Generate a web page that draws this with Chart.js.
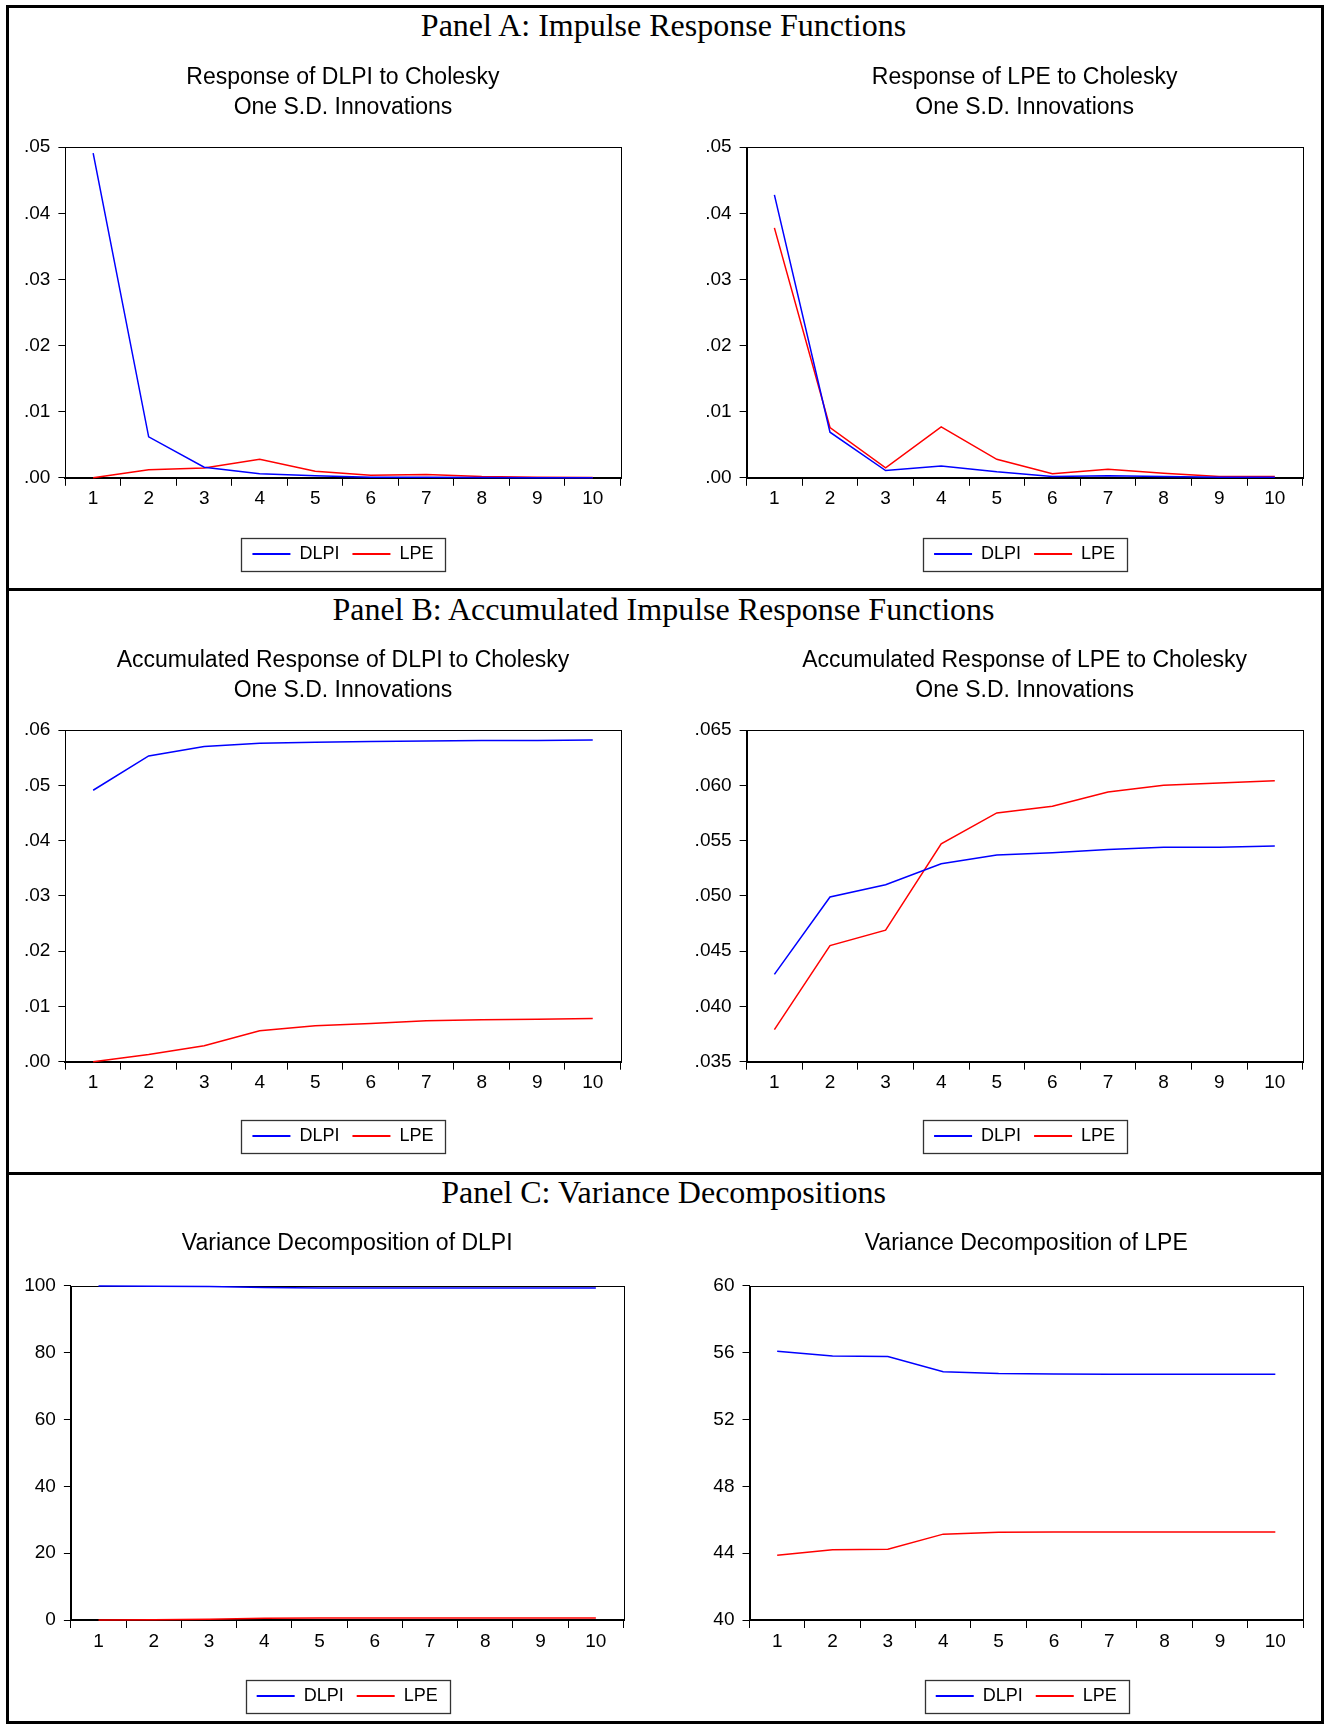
<!DOCTYPE html>
<html>
<head>
<meta charset="utf-8">
<script src="https://cdn.jsdelivr.net/npm/chart.js@4.4.1/dist/chart.umd.min.js"></script>
<style>
  body { margin: 0; background: #fff; width: 1325px; height: 1729px; position: relative; overflow: hidden; }
  .frame { position: absolute; left: 6px; top: 5px; width: 1312px; height: 1713px; border: 3px solid #000; }
  .sep { position: absolute; left: 6px; width: 1318px; height: 3px; background: #000; }
  .ptitle { position: absolute; left: 1px; width: 1325px; text-align: center; color: #000;
            font-family: 'Liberation Serif', 'Times New Roman', serif; font-size: 32px; line-height: 32px; }
  canvas { position: absolute; }
</style>
</head>
<body>
<div class="frame"></div>
<div class="sep" style="top:588px"></div>
<div class="sep" style="top:1172px"></div>

<div class="ptitle" style="top:9px">Panel A: Impulse Response Functions</div>
<div class="ptitle" style="top:593px">Panel B: Accumulated Impulse Response Functions</div>
<div class="ptitle" style="top:1176px">Panel C: Variance Decompositions</div>

<canvas id="irf-dlpi"></canvas>
<canvas id="irf-lpe"></canvas>
<canvas id="acc-dlpi"></canvas>
<canvas id="acc-lpe"></canvas>
<canvas id="vd-dlpi"></canvas>
<canvas id="vd-lpe"></canvas>

<script>
// periods after the shock
const periods = ['1', '2', '3', '4', '5', '6', '7', '8', '9', '10'];
const seriesNames = ['DLPI', 'LPE'];

// Panel A: impulse responses
const irfDlpiByDlpi = [0.0491, 0.0062, 0.0016, 0.0006, 0.0003, 0.0001, 0.0001, 0.00005, 0.00002, 0.00001];
const irfDlpiByLpe  = [0.0000, 0.0012, 0.0015, 0.0028, 0.0010, 0.0004, 0.0005, 0.0002, 0.0001, 0.00005];
const irfLpeByDlpi  = [0.0428, 0.0069, 0.0011, 0.0018, 0.0009, 0.0002, 0.0003, 0.0002, 0.0001, 0.0001];
const irfLpeByLpe   = [0.0378, 0.0076, 0.0015, 0.0077, 0.0028, 0.0006, 0.0013, 0.0007, 0.0002, 0.0002];

// Panel B: accumulated responses
const accDlpiByDlpi = [0.0491, 0.0553, 0.0570, 0.0576, 0.0578, 0.0579, 0.0580, 0.0581, 0.0581, 0.0582];
const accDlpiByLpe  = [0.0000, 0.0013, 0.0029, 0.0056, 0.0065, 0.0069, 0.0074, 0.0076, 0.0077, 0.0078];
const accLpeByDlpi  = [0.0429, 0.0499, 0.0510, 0.0529, 0.0537, 0.0539, 0.0542, 0.0544, 0.0544, 0.0545];
const accLpeByLpe   = [0.0379, 0.0455, 0.0469, 0.0547, 0.0575, 0.0581, 0.0594, 0.0600, 0.0602, 0.0604];

// Panel C: variance decompositions (percent)
const vdDlpiByDlpi = [100.0, 99.9, 99.8, 99.5, 99.4, 99.4, 99.4, 99.4, 99.4, 99.4];
const vdDlpiByLpe  = [0.0, 0.1, 0.2, 0.5, 0.6, 0.6, 0.6, 0.6, 0.6, 0.6];
const vdLpeByDlpi  = [56.09, 55.80, 55.77, 54.86, 54.75, 54.73, 54.71, 54.71, 54.71, 54.71];
const vdLpeByLpe   = [43.88, 44.20, 44.23, 45.14, 45.25, 45.27, 45.27, 45.27, 45.27, 45.27];

// y axis ranges: [min, max, step, decimals]
const yIrf     = [0, 0.05, 0.01, 2];
const yAccDlpi = [0, 0.06, 0.01, 2];
const yAccLpe  = [0.035, 0.065, 0.005, 3];
const yVdDlpi  = [0, 100, 20, 0];
const yVdLpe   = [40, 60, 4, 0];

Chart.defaults.font.family = "'Liberation Sans', Arial, sans-serif";
Chart.defaults.color = '#000';

// box round the plot area, under the lines
const plotFrame = {
    id: 'plotFrame',
    beforeDatasetsDraw(chart) {
        const a = chart.chartArea;
        const ctx = chart.ctx;
        ctx.save();
        ctx.strokeStyle = '#000';
        ctx.lineWidth = 1;
        const l = Math.round(a.left) + 0.5, t = Math.round(a.top) + 0.5;
        ctx.strokeRect(l, t, Math.round(a.right) - Math.round(a.left), Math.round(a.bottom) - Math.round(a.top));
        ctx.restore();
    }
};

// box round the legend items
const legendFrame = {
    id: 'legendFrame',
    afterDraw(chart) {
        const hb = chart.legend && chart.legend.legendHitBoxes;
        if (!hb || !hb.length) return;
        const last = hb[hb.length - 1];
        const x0 = Math.round(hb[0].left - 11) + 0.5;
        const x1 = Math.round(last.left + last.width + 12) + 0.5;
        const yc = hb[0].top + hb[0].height / 2;
        const ctx = chart.ctx;
        ctx.save();
        ctx.strokeStyle = '#333';
        ctx.lineWidth = 1.3;
        ctx.strokeRect(x0, Math.round(yc - 16.5) + 0.5, x1 - x0, 33);
        ctx.restore();
    }
};

function makeChart(id, box, titleLines, dlpi, lpe, yRange) {
    const canvas = document.getElementById(id);
    canvas.width = box.width;
    canvas.height = box.height;
    canvas.style.left = box.left + 'px';
    canvas.style.top = box.top + 'px';
    const [yMin, yMax, yStep, decimals] = yRange;

    return new Chart(canvas, {
        type: 'line',
        data: {
            labels: periods,
            datasets: [
                { label: seriesNames[0], data: dlpi, borderColor: '#0000ff', backgroundColor: '#0000ff',
                  borderWidth: 1.5, pointRadius: 0, tension: 0, clip: 4 },
                { label: seriesNames[1], data: lpe, borderColor: '#ff0000', backgroundColor: '#ff0000',
                  borderWidth: 1.5, pointRadius: 0, tension: 0, clip: 4 }
            ]
        },
        options: {
            responsive: false,
            animation: false,
            events: [],
            layout: { padding: { left: 0, right: box.padRight, top: 0, bottom: 0 } },
            plugins: {
                title: {
                    display: true,
                    text: titleLines,
                    fullSize: false,
                    color: '#000',
                    font: { size: 23, weight: 'normal', lineHeight: 1.287 },
                    padding: { top: 23, bottom: box.titleGap - 3 }
                },
                legend: {
                    position: 'bottom',
                    fullSize: false,
                    labels: {
                        boxWidth: 38,
                        boxHeight: 2,
                        padding: 13,
                        color: '#000',
                        font: { size: 18 },
                        generateLabels(chart) {
                            const items = Chart.defaults.plugins.legend.labels.generateLabels(chart);
                            items.forEach(it => { it.lineWidth = 0; });
                            return items;
                        }
                    }
                },
                tooltip: { enabled: false }
            },
            scales: {
                x: {
                    offset: true,
                    grid: { offset: true, drawOnChartArea: false, tickLength: 8, color: '#000' },
                    border: { color: '#000', width: 2 },
                    ticks: { font: { size: 19 }, padding: 2, maxRotation: 0, autoSkip: false },
                    afterFit(scale) { scale.height = box.xAxisHeight; }
                },
                y: {
                    min: yMin,
                    max: yMax,
                    grid: { drawOnChartArea: false, tickLength: 7, color: '#000' },
                    border: { color: '#000', width: 1 },
                    ticks: {
                        stepSize: yStep,
                        font: { size: 19 },
                        padding: 8,
                        callback: v => decimals ? Number(v).toFixed(decimals).replace(/^0\./, '.') : String(Math.round(v))
                    },
                    afterFit(scale) { scale.width = box.yAxisWidth; }
                }
            }
        },
        plugins: [plotFrame, legendFrame]
    });
}

makeChart('irf-dlpi',
    { left: 10, top: 40, width: 645, height: 533, yAxisWidth: 55.4, padRight: 34.5, titleGap: 28, xAxisHeight: 54.2 },
    ['Response of DLPI to Cholesky', 'One S.D. Innovations'], irfDlpiByDlpi, irfDlpiByLpe, yIrf);
makeChart('irf-lpe',
    { left: 668, top: 40, width: 650, height: 533, yAxisWidth: 78.6, padRight: 15.4, titleGap: 28, xAxisHeight: 54.2 },
    ['Response of LPE to Cholesky', 'One S.D. Innovations'], irfLpeByDlpi, irfLpeByLpe, yIrf);

makeChart('acc-dlpi',
    { left: 10, top: 623, width: 645, height: 532, yAxisWidth: 55.4, padRight: 34.5, titleGap: 27.8, xAxisHeight: 52.3 },
    ['Accumulated Response of DLPI to Cholesky', 'One S.D. Innovations'], accDlpiByDlpi, accDlpiByLpe, yAccDlpi);
makeChart('acc-lpe',
    { left: 668, top: 623, width: 650, height: 532, yAxisWidth: 78.6, padRight: 15.4, titleGap: 27.8, xAxisHeight: 52.3 },
    ['Accumulated Response of LPE to Cholesky', 'One S.D. Innovations'], accLpeByDlpi, accLpeByLpe, yAccLpe);

makeChart('vd-dlpi',
    { left: 10, top: 1206, width: 645, height: 509, yAxisWidth: 60.9, padRight: 31.5, titleGap: 30.3, xAxisHeight: 54 },
    ['Variance Decomposition of DLPI'], vdDlpiByDlpi, vdDlpiByLpe, yVdDlpi);
makeChart('vd-lpe',
    { left: 668, top: 1206, width: 650, height: 509, yAxisWidth: 81.5, padRight: 15, titleGap: 30.3, xAxisHeight: 54 },
    ['Variance Decomposition of LPE'], vdLpeByDlpi, vdLpeByLpe, yVdLpe);
</script>
</body>
</html>
